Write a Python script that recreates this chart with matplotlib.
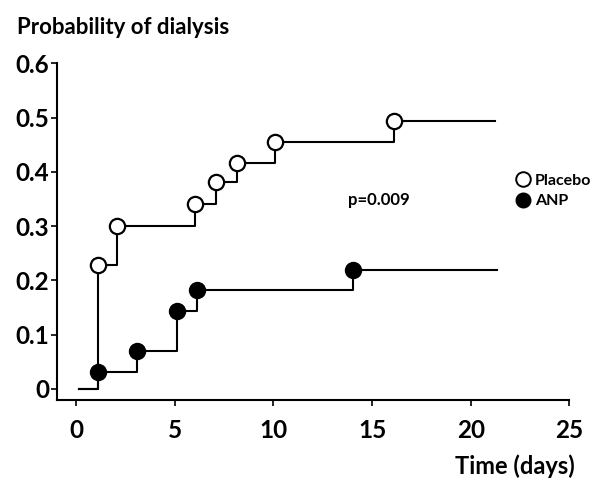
import matplotlib.pyplot as plt
from matplotlib.lines import Line2D

plt.rcParams['font.family'] = ['Lato', 'DejaVu Sans']
plt.rcParams['font.weight'] = 'bold'

# Kaplan-Meier style steps (time in days, cumulative probability)
placebo_t = [0.15, 1.10, 2.09, 6.03, 7.10, 8.18, 10.09, 16.13]
placebo_p = [0.0, 0.228, 0.301, 0.340, 0.381, 0.417, 0.455, 0.494]
placebo_end = 21.24

anp_t = [0.15, 1.10, 3.11, 5.10, 6.12, 14.05]
anp_p = [0.0, 0.032, 0.070, 0.144, 0.182, 0.219]
anp_end = 21.32

xticks = [0, 5, 10, 15, 20, 25]
yticks = [0, 0.1, 0.2, 0.3, 0.4, 0.5, 0.6]
ytick_labels = ["0", "0.1", "0.2", "0.3", "0.4", "0.5", "0.6"]

fig = plt.figure(figsize=(6, 4.92), dpi=100)
ax = fig.add_axes([0.0955, 0.188, 0.8535, 0.6835])

# placebo
ax.step(placebo_t + [placebo_end], placebo_p + [placebo_p[-1]], where="post",
        color="black", lw=1.5, zorder=2)
ax.plot(placebo_t[1:], placebo_p[1:], "o", ms=11, mfc="white", mec="black",
        mew=1.6, zorder=3)

# ANP
ax.step(anp_t + [anp_end], anp_p + [anp_p[-1]], where="post",
        color="black", lw=1.5, zorder=2)
ax.plot(anp_t[1:], anp_p[1:], "o", ms=11.5, mfc="black", mec="black", zorder=4)

ax.set_xlim(-0.95, 25)
ax.set_ylim(-0.0195, 0.6)
ax.set_xticks(xticks)
ax.set_yticks(yticks)
ax.set_yticklabels(ytick_labels)
ax.spines["top"].set_visible(False)
ax.spines["right"].set_visible(False)
ax.spines["left"].set_linewidth(1.5)
ax.spines["bottom"].set_linewidth(1.5)
ax.tick_params(axis="x", direction="out", length=4, width=1.2, pad=10, labelsize=17.5)
ax.tick_params(axis="y", direction="out", length=4, width=1.2, pad=2, labelsize=17.5)

ax.text(15.33, 0.348, "p=0.009", ha="center", va="center", fontsize=12, fontweight="bold")

handles = [
    Line2D([], [], marker="o", ls="none", ms=10.5, mfc="white", mec="black", mew=1.4),
    Line2D([], [], marker="o", ls="none", ms=10.5, mfc="black", mec="black"),
]
fig.legend(handles, ["Placebo", "ANP"], loc="center left",
           bbox_to_anchor=(0.848, 0.612), frameon=False, handlelength=0.8,
           handletextpad=0.35, labelspacing=0.4, borderpad=0,
           prop={"weight": "bold", "size": 11.5})

fig.text(0.028, 0.945, "Probability of dialysis", ha="left", va="center",
         fontsize=16, fontweight="bold")
fig.text(0.958, 0.053, "Time (days)", ha="right", va="center",
         fontsize=17, fontweight="bold")

fig.savefig("out.png", dpi=100)
